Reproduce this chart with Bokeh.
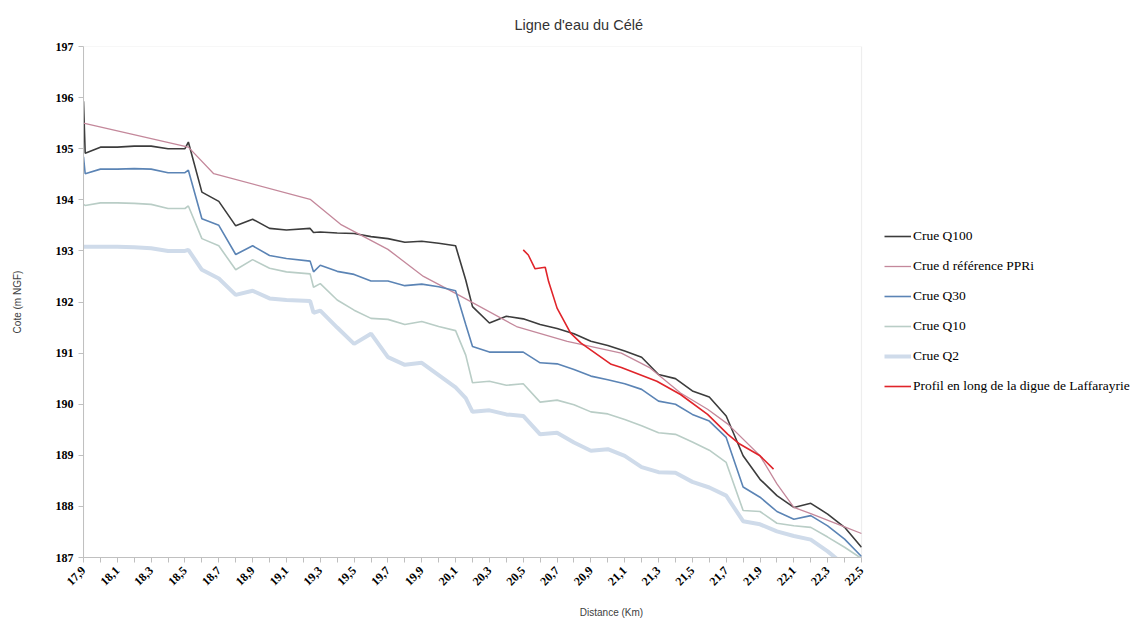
import math
from bokeh.plotting import figure
from bokeh.models import (Range1d, FixedTicker, CustomJSTickFormatter, Legend,
                          LegendItem, BoxAnnotation)
from bokeh.embed import file_html
from bokeh.resources import INLINE

# ---------------- data ----------------
title_text = "Ligne d'eau du Célé"
x_label = "Distance (Km)"
y_label = "Cote (m NGF)"

distance = [17.90, 17.91, 18.0, 18.1, 18.2, 18.3, 18.4, 18.5, 18.52, 18.6, 18.7,
            18.8, 18.9, 19.0, 19.1, 19.24, 19.26, 19.3, 19.4, 19.5, 19.6, 19.7,
            19.8, 19.9, 20.0, 20.1, 20.16, 20.2, 20.3, 20.4, 20.5, 20.6, 20.7,
            20.8, 20.9, 21.0, 21.1, 21.2, 21.3, 21.4, 21.5, 21.6, 21.7, 21.8,
            21.9, 22.0, 22.1, 22.2, 22.3, 22.4, 22.5]

q100 = [195.93, 194.91, 195.03, 195.03, 195.05, 195.05, 195.00, 195.00, 195.13,
        194.15, 193.97, 193.49, 193.62, 193.44, 193.41, 193.44, 193.36, 193.37,
        193.35, 193.34, 193.28, 193.24, 193.17, 193.19, 193.15, 193.10, 192.43,
        191.91, 191.59, 191.72, 191.67, 191.56, 191.48, 191.38, 191.23, 191.15,
        191.04, 190.92, 190.58, 190.50, 190.26, 190.14, 189.77, 188.99, 188.53,
        188.21, 187.98, 188.06, 187.85, 187.59, 187.20]

q30 = [194.84, 194.51, 194.60, 194.60, 194.61, 194.60, 194.53, 194.53, 194.58,
       193.63, 193.50, 192.93, 193.10, 192.91, 192.85, 192.80, 192.59, 192.72,
       192.60, 192.54, 192.41, 192.41, 192.32, 192.35, 192.30, 192.22, 191.56,
       191.13, 191.02, 191.02, 191.02, 190.81, 190.79, 190.68, 190.55, 190.48,
       190.40, 190.29, 190.06, 190.00, 189.80, 189.67, 189.35, 188.38, 188.18,
       187.90, 187.75, 187.82, 187.62, 187.36, 187.02]

q10 = [193.91, 193.89, 193.94, 193.94, 193.93, 193.91, 193.83, 193.83, 193.88,
       193.24, 193.10, 192.63, 192.83, 192.66, 192.59, 192.55, 192.29, 192.36,
       192.04, 191.84, 191.68, 191.66, 191.56, 191.62, 191.52, 191.44, 190.96,
       190.42, 190.45, 190.37, 190.40, 190.04, 190.08, 189.99, 189.85, 189.81,
       189.70, 189.58, 189.44, 189.41, 189.26, 189.10, 188.86, 187.92, 187.90,
       187.67, 187.62, 187.59, 187.40, 187.20, 186.98]

q2 = [193.08, 193.08, 193.08, 193.08, 193.07, 193.05, 193.00, 193.00, 193.02,
      192.63, 192.46, 192.14, 192.22, 192.07, 192.04, 192.02, 191.79, 191.83,
      191.50, 191.18, 191.38, 190.92, 190.77, 190.81, 190.57, 190.33, 190.12,
      189.85, 189.88, 189.80, 189.77, 189.41, 189.44, 189.25, 189.09, 189.12,
      188.99, 188.77, 188.67, 188.66, 188.48, 188.37, 188.21, 187.71, 187.65,
      187.51, 187.42, 187.35, 187.12, 186.85, 186.60]

ppri_distance = [17.90, 18.52, 18.67, 19.24, 19.42, 19.70, 19.91, 20.10, 20.46,
                 20.76, 21.08, 21.25, 21.43, 21.59, 21.71, 21.90, 22.00, 22.10,
                 22.20, 22.40, 22.50]
ppri = [195.50, 195.03, 194.51, 194.01, 193.52, 193.03, 192.50, 192.17, 191.52,
        191.23, 191.00, 190.71, 190.22, 189.90, 189.61, 188.99, 188.44, 187.98,
        187.86, 187.60, 187.47]

digue_distance = [20.50, 20.53, 20.57, 20.63, 20.65, 20.70, 20.78, 20.84, 21.02,
                  21.08, 21.29, 21.43, 21.59, 21.71, 21.78, 21.90, 21.98]
digue = [193.02, 192.92, 192.65, 192.68, 192.40, 191.88, 191.39, 191.20, 190.78,
         190.72, 190.45, 190.19, 189.80, 189.41, 189.22, 188.99, 188.73]

x_ticks = [17.9, 18.1, 18.3, 18.5, 18.7, 18.9, 19.1, 19.3, 19.5, 19.7, 19.9,
           20.1, 20.3, 20.5, 20.7, 20.9, 21.1, 21.3, 21.5, 21.7, 21.9, 22.1,
           22.3, 22.5]
x_minor_ticks = [18.0, 18.2, 18.4, 18.6, 18.8, 19.0, 19.2, 19.4, 19.6, 19.8,
                 20.0, 20.2, 20.4, 20.6, 20.8, 21.0, 21.2, 21.4, 21.6, 21.8,
                 22.0, 22.2, 22.4]
y_ticks = [187, 188, 189, 190, 191, 192, 193, 194, 195, 196, 197]

series_labels = ["Crue Q100", "Crue d référence PPRi", "Crue Q30", "Crue Q10",
                 "Crue Q2", "Profil en long de la digue de Laffarayrie"]

# ---------------- layout ----------------
X_MIN, X_MAX = 17.9, 22.5
Y_MIN, Y_MAX = 187, 197
PLOT_LEFT, PLOT_RIGHT = 83, 861          # pixel extent of the data area
FIG_W, FIG_H = 1143, 621
FRAME_RIGHT = FIG_W - 4                  # frame extends under the legend
km_per_px = (X_MAX - X_MIN) / (PLOT_RIGHT - PLOT_LEFT)
x_end = X_MIN + (FRAME_RIGHT - PLOT_LEFT) * km_per_px

p = figure(width=FIG_W, height=FIG_H, output_backend="svg", toolbar_location=None,
           x_range=Range1d(X_MIN, x_end), y_range=Range1d(Y_MIN, Y_MAX),
           min_border_left=PLOT_LEFT, min_border_right=FIG_W - FRAME_RIGHT,
           min_border_top=44, min_border_bottom=64, title=title_text)
p.title.align = "left"
p.title.offset = 431
p.title.text_font = "Liberation Sans"
p.title.text_font_size = "14.5px"
p.title.text_font_style = "normal"
p.title.text_color = "#333333"
p.title.standoff = 28

p.xgrid.visible = False
p.ygrid.visible = False
p.outline_line_color = None
p.background_fill_color = "white"
p.border_fill_color = "white"

# border of the data area
p.add_layout(BoxAnnotation(left=X_MIN, right=X_MAX, bottom=Y_MIN, top=Y_MAX,
                           fill_alpha=0, line_color="#c8c8c8", line_width=1.2,
                           level="annotation"))

axis_col = "#bfbfbf"
for ax in (p.xaxis[0], p.yaxis[0]):
    ax.axis_line_color = axis_col
    ax.major_tick_line_color = axis_col
    ax.minor_tick_line_color = axis_col
    ax.major_tick_in = 0
    ax.major_tick_out = 5
    ax.major_label_text_font = "Liberation Serif"
    ax.major_label_text_font_style = "bold"
    ax.major_label_text_font_size = "12px"
    ax.major_label_text_color = "#000000"
    ax.axis_label_text_font = "Liberation Sans"
    ax.axis_label_text_font_style = "normal"
    ax.axis_label_text_font_size = "10px"
    ax.axis_label_text_color = "#404040"

p.yaxis[0].ticker = FixedTicker(ticks=y_ticks, minor_ticks=[])
p.yaxis[0].minor_tick_out = 0
p.yaxis[0].minor_tick_in = 0
p.yaxis[0].major_label_standoff = 5
p.yaxis[0].axis_label = y_label
p.yaxis[0].axis_label_standoff = 30

p.xaxis[0].bounds = (X_MIN, X_MAX)
p.xaxis[0].ticker = FixedTicker(ticks=x_ticks, minor_ticks=x_minor_ticks)
p.xaxis[0].minor_tick_in = 0
p.xaxis[0].minor_tick_out = 5
p.xaxis[0].formatter = CustomJSTickFormatter(
    code="return tick.toFixed(1).replace('.', ',');")
p.xaxis[0].major_label_orientation = math.pi / 4
p.xaxis[0].major_label_standoff = 6
p.xaxis[0].axis_label = x_label
p.xaxis[0].axis_label_standoff = 15

r_q100 = p.line(distance, q100, line_color="#3c3c3c", line_width=1.6)
r_ppri = p.line(ppri_distance, ppri, line_color="#c4889b", line_width=1.3)
r_q30 = p.line(distance, q30, line_color="#5b84b5", line_width=1.6)
r_q10 = p.line(distance, q10, line_color="#b9cdc6", line_width=1.6)
r_q2 = p.line(distance, q2, line_color="#cfdbea", line_width=4)
r_dig = p.line(digue_distance, digue, line_color="#e0242a", line_width=1.6)

renderers = [r_q100, r_ppri, r_q30, r_q10, r_q2, r_dig]
legend = Legend(items=[LegendItem(label=lab, renderers=[r])
                       for lab, r in zip(series_labels, renderers)],
                location=(801, 161), orientation="vertical",
                border_line_color=None, background_fill_alpha=0,
                padding=0, margin=0, spacing=10,
                glyph_width=27, glyph_height=20, label_height=20,
                label_standoff=2, label_text_font="Liberation Serif",
                label_text_font_size="13.5px", label_text_color="#000000")
p.add_layout(legend, "center")

open("out.html", "w").write(file_html(p, INLINE))
